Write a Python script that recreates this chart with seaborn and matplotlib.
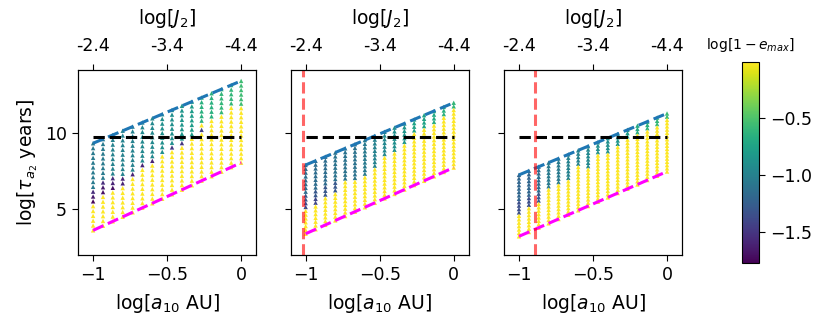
import numpy as np
import pandas as pd
import matplotlib
matplotlib.use("Agg")
import matplotlib.pyplot as plt
import seaborn as sns

# ---------------- data ----------------
x_cols = [-1.0, -0.933, -0.867, -0.8, -0.733, -0.667, -0.6, -0.533,
          -0.467, -0.4, -0.333, -0.267, -0.2, -0.133, -0.067, 0.0]
n_per_col = 19

top_1 = [9.31, 9.58, 9.85, 10.13, 10.40, 10.67, 10.94, 11.21, 11.49, 11.76, 12.03, 12.30, 12.58, 12.85, 13.12, 13.39]
bot_1 = [3.61, 3.91, 4.20, 4.50, 4.79, 5.09, 5.38, 5.68, 5.97, 6.27, 6.56, 6.86, 7.15, 7.45, 7.74, 8.04]
top_2 = [7.89, 8.16, 8.43, 8.70, 8.98, 9.25, 9.52, 9.79, 10.06, 10.33, 10.60, 10.87, 11.15, 11.42, 11.69, 11.96]
bot_2 = [3.39, 3.68, 3.97, 4.26, 4.54, 4.83, 5.12, 5.41, 5.70, 5.99, 6.28, 6.57, 6.85, 7.14, 7.43, 7.72]
top_3 = [7.24, 7.51, 7.78, 8.04, 8.31, 8.58, 8.85, 9.12, 9.38, 9.65, 9.92, 10.19, 10.46, 10.72, 10.99, 11.26]
bot_3 = [3.22, 3.50, 3.79, 4.07, 4.35, 4.63, 4.92, 5.20, 5.48, 5.76, 6.05, 6.33, 6.61, 6.90, 7.18, 7.46]

# colour runs per column, from the top of each column down: (log[1-e_max], count)
# remaining points of a column are unexcited (log[1-e_max] = 0)
runs_1 = [
    [(-1.05, 10), (-1.55, 1), (-1.65, 1), (-1.75, 1)],
    [(-1.05, 9), (-1.55, 1), (-1.65, 1), (-1.7, 1)],
    [(-1.0, 9), (-1.55, 1), (-1.6, 1), (-1.7, 1)],
    [(-1.0, 10), (-1.6, 2)],
    [(-1.0, 10), (-1.6, 1)],
    [(-0.95, 9), (-1.6, 1)],
    [(-0.95, 9), (-1.6, 1)],
    [(-0.9, 9)],
    [(-0.9, 8), (-1.5, 1)],
    [(-0.85, 8), (-1.5, 1)],
    [(-0.8, 8)],
    [(-0.65, 6), (0.0, 1), (-1.45, 1)],
    [(-0.65, 6)],
    [(-0.6, 6)],
    [(-0.6, 5)],
    [(-0.55, 6)],
]
runs_2 = [
    [(-1.15, 8), (-1.3, 2), (-1.4, 2)],
    [(-1.15, 8), (-1.3, 2), (-1.4, 2)],
    [(-1.15, 8), (-1.3, 3)],
    [(-1.1, 8), (-1.3, 3)],
    [(-1.1, 9)],
    [(-1.1, 10)],
    [(-1.05, 10)],
    [(-1.0, 9)],
    [(-0.95, 7)],
    [(-0.9, 7)],
    [(-0.85, 6)],
    [(-0.75, 4)],
    [(-0.75, 4)],
    [(-0.7, 4)],
    [(-0.65, 3)],
    [(-0.6, 2)],
]
runs_3 = [
    [(-1.2, 8), (-1.35, 4)],
    [(-1.2, 8), (-1.35, 3)],
    [(-1.15, 8), (-1.3, 3)],
    [(-1.05, 8)],
    [(-1.05, 8)],
    [(-1.0, 8)],
    [(-1.0, 5)],
    [(-0.95, 7)],
    [(-0.9, 4)],
    [(-0.9, 5)],
    [(-0.85, 4)],
    [(-0.8, 3)],
    [(-0.7, 3)],
    [(-0.65, 3)],
    [(-0.6, 3)],
    [(-0.55, 2)],
]

black_level = 9.74
red_x = [None, -1.02, -0.89]
x_ticks = [-1.0, -0.5, 0.0]
top_tick_labels = ["-2.4", "-3.4", "-4.4"]
y_ticks = [5, 10]
cbar_ticks = [-0.5, -1.0, -1.5]
vmin, vmax = -1.78, 0.0

panels = [(top_1, bot_1, runs_1), (top_2, bot_2, runs_2), (top_3, bot_3, runs_3)]


def build_frame(tops, bots, runs):
    rows = []
    for xc, t, b, r in zip(x_cols, tops, bots, runs):
        ys = np.linspace(t, b, n_per_col)
        vals = []
        for v, c in r:
            vals += [v] * c
        vals += [0.0] * (n_per_col - len(vals))
        for y, v in zip(ys, vals):
            rows.append((xc, y, v))
    return pd.DataFrame(rows, columns=["x", "y", "e"])


# ---------------- figure ----------------
fig = plt.figure(figsize=(8.31, 3.32), dpi=100)
fs_tick = 12.5
fs_lab = 13.5
lefts = [0.0942, 0.350, 0.6067]
w, h, b0 = 0.2138, 0.557, 0.232
cmap = plt.get_cmap("viridis")
norm = matplotlib.colors.Normalize(vmin=vmin, vmax=vmax)

for i, (tops, bots, runs) in enumerate(panels):
    ax = fig.add_axes([lefts[i], b0, w, h])
    df = build_frame(tops, bots, runs)
    sns.scatterplot(data=df, x="x", y="y", hue="e", palette="viridis",
                    hue_norm=norm, marker="^", s=10, linewidth=0,
                    legend=False, ax=ax, zorder=2)
    ax.plot([x_cols[0], x_cols[-1]], [tops[0], tops[-1]], ls="--",
            color="#1f77b4", lw=2.2, zorder=3)
    ax.plot([x_cols[0], x_cols[-1]], [bots[0], bots[-1]], ls="--",
            color="magenta", lw=2.2, zorder=3)
    ax.plot([x_cols[0], x_cols[-1]], [black_level, black_level], ls="--",
            color="black", lw=2.2, zorder=3)
    if red_x[i] is not None:
        ax.axvline(red_x[i], color="r", alpha=0.6, ls="--", lw=2.2, zorder=4)
    ax.set_xlim(-1.1, 0.1)
    ax.set_ylim(2.0, 14.1)
    ax.set_xticks(x_ticks)
    ax.set_xticklabels(["\u22121", "\u22120.5", "0"])
    ax.set_yticks(y_ticks)
    ax.tick_params(labelsize=fs_tick, length=4.5)
    ax.set_xlabel(r"log[$a_{10}$ AU]", fontsize=fs_lab, labelpad=6)
    if i == 0:
        ax.set_ylabel(r"log[$\tau_{a_2}$ years]", fontsize=fs_lab)
    else:
        ax.set_yticklabels([])
        ax.set_ylabel("")
    axt = ax.twiny()
    axt.set_xlim(ax.get_xlim())
    axt.set_xticks(x_ticks)
    axt.set_xticklabels(top_tick_labels)
    axt.tick_params(labelsize=fs_tick, length=4.5, pad=6)
    axt.set_xlabel(r"log[$J_2$]", fontsize=fs_lab, labelpad=10)

cax = fig.add_axes([0.8925, 0.207, 0.0212, 0.607])
sm = matplotlib.cm.ScalarMappable(norm=norm, cmap=cmap)
cb = fig.colorbar(sm, cax=cax)
cb.set_ticks(cbar_ticks)
cb.ax.tick_params(labelsize=fs_tick, length=4.5)
cax.set_title(r"log[$1-e_{max}$]", fontsize=10, pad=9)

fig.savefig("out.png", dpi=100)
